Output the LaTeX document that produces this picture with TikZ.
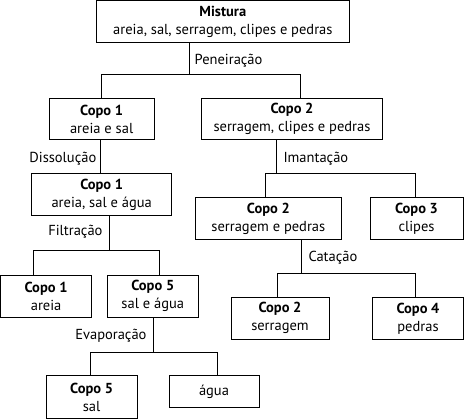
\documentclass[tikz,border=0pt]{standalone}
\usepackage{fontspec}
\setmainfont{PT Sans}
\begin{document}
\begin{tikzpicture}[x=1pt,y=-1pt,
  box/.style={draw, line width=1pt, align=center, inner sep=0pt, font=\fontsize{14.5}{18}\selectfont},
  conn/.style={line width=1pt},
  lbl/.style={inner sep=0pt, font=\fontsize{14.5}{16}\selectfont}]
\useasboundingbox (0,0) rectangle (464,419);
% boxes
\node[box, minimum width=252.3pt, minimum height=42pt] (mist) at (222.85,21.5) {\textbf{Mistura}\\areia, sal, serragem, clipes e pedras};
\node[box, minimum width=104.7pt, minimum height=41.3pt] (c1a) at (101.65,119.35) {\textbf{Copo 1}\\areia e sal};
\node[box, minimum width=181.4pt, minimum height=41.3pt] (c2a) at (292,119.35) {\textbf{Copo 2}\\serragem, clipes e pedras};
\node[box, minimum width=140pt, minimum height=42.4pt] (c1b) at (101.7,194.5) {\textbf{Copo 1}\\areia, sal e água};
\node[box, minimum width=146.7pt, minimum height=42.7pt] (c2b) at (268.35,218.65) {\textbf{Copo 2}\\serragem e pedras};
\node[box, minimum width=93pt, minimum height=42.7pt] (c3) at (416.5,218.65) {\textbf{Copo 3}\\clipes};
\node[box, minimum width=91pt, minimum height=42pt] (c1c) at (46.1,296.3) {\textbf{Copo 1}\\areia};
\node[box, minimum width=91pt, minimum height=42pt] (c5a) at (152.8,296.3) {\textbf{Copo 5}\\sal e água};
\node[box, minimum width=91.3pt, minimum height=42.4pt] (c5b) at (91.65,397.2) {\textbf{Copo 5}\\sal};
\node[box, minimum width=90pt, minimum height=31.3pt] (agua) at (214,391.65) {água};
\node[box, minimum width=98pt, minimum height=42pt] (c2c) at (280,318.3) {\textbf{Copo 2}\\serragem};
\node[box, minimum width=90.6pt, minimum height=42pt] (c4) at (418,318.3) {\textbf{Copo 4}\\pedras};
% junction coordinates
\coordinate (j1) at (189.7,74.7);
\coordinate (j1l) at (101.7,74.7);
\coordinate (j1r) at (300.3,74.7);
\coordinate (j2) at (100.7,140);
\coordinate (j3) at (276.7,173.3);
\coordinate (j3l) at (265,173.3);
\coordinate (j3r) at (415,173.3);
\coordinate (j4) at (109.3,251);
\coordinate (j4l) at (33.3,251);
\coordinate (j4r) at (159.3,251);
\coordinate (j5) at (153.3,352.3);
\coordinate (j5l) at (90.7,352.3);
\coordinate (j5r) at (217.3,352.3);
\coordinate (j6) at (301.7,273.3);
\coordinate (j6l) at (277.7,273.3);
\coordinate (j6r) at (415,273.3);
% connectors
\draw[conn] (j1 |- mist.south) -- (j1);
\draw[conn] (j1l |- c1a.north) -- (j1l) -- (j1r) -- (j1r |- c2a.north);
\draw[conn] (j2 |- c1a.south) -- (j2 |- c1b.north);
\draw[conn] (j3 |- c2a.south) -- (j3);
\draw[conn] (j3l |- c2b.north) -- (j3l) -- (j3r) -- (j3r |- c3.north);
\draw[conn] (j4 |- c1b.south) -- (j4);
\draw[conn] (j4l |- c1c.north) -- (j4l) -- (j4r) -- (j4r |- c5a.north);
\draw[conn] (j5 |- c5a.south) -- (j5);
\draw[conn] (j5l |- c5b.north) -- (j5l) -- (j5r) -- (j5r |- agua.north);
\draw[conn] (j6 |- c2b.south) -- (j6);
\draw[conn] (j6l |- c2c.north) -- (j6l) -- (j6r) -- (j6r |- c4.north);
% labels
\node[lbl, anchor=base west] (lpen) at (194.5,65) {Peneiração};
\node[lbl, anchor=base east] (ldis) at (96.5,162.3) {Dissolução};
\node[lbl, anchor=base west] (lima) at (283.3,162.3) {Imantação};
\node[lbl, anchor=base east] (lfil) at (102.7,236) {Filtração};
\node[lbl, anchor=base east] (leva) at (146.7,340) {Evaporação};
\node[lbl, anchor=base west] (lcat) at (308.3,261.7) {Catação};
\end{tikzpicture}
\end{document}
